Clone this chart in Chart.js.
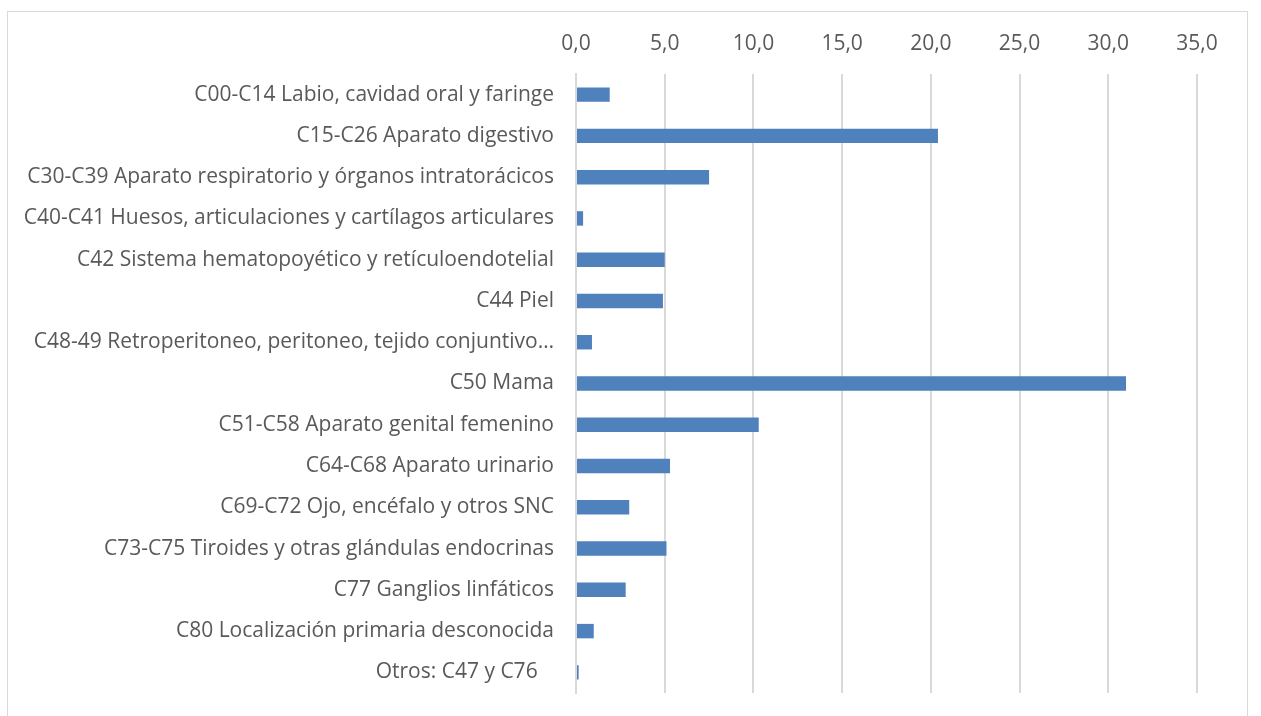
<!DOCTYPE html>
<html>
<head>
<meta charset="utf-8">
<script src="https://cdn.jsdelivr.net/npm/chart.js@4/dist/chart.umd.min.js"></script>
<style>
  html, body { margin: 0; padding: 0; background: #ffffff; }
  #wrap { width: 1261px; height: 716px; position: relative; }
</style>
</head>
<body>
<div id="wrap"><canvas id="bars"></canvas></div>
<script>
// Categories (top to bottom)
const categories = [
    'C00-C14 Labio, cavidad oral y faringe',
    'C15-C26 Aparato digestivo',
    'C30-C39 Aparato respiratorio y órganos intratorácicos',
    'C40-C41 Huesos, articulaciones y cartílagos articulares',
    'C42 Sistema hematopoyético y retículoendotelial',
    'C44 Piel',
    'C48-49 Retroperitoneo, peritoneo, tejido conjuntivo…',
    'C50 Mama',
    'C51-C58 Aparato genital femenino',
    'C64-C68 Aparato urinario',
    'C69-C72 Ojo, encéfalo y otros SNC',
    'C73-C75 Tiroides y otras glándulas endocrinas',
    'C77 Ganglios linfáticos',
    'C80 Localización primaria desconocida',
    'Otros: C47 y C76   '
];

// Percentages
const values = [1.9, 20.4, 7.5, 0.4, 5.0, 4.9, 0.9, 31.0, 10.3, 5.3, 3.0, 5.1, 2.8, 1.0, 0.15];

// Axis range
const axisMin = 0;
const axisMax = 35;
const axisStep = 5;

const textColor = '#595959';
const gridColor = '#d9d9d9';
const barColor = '#4f81bd';
const fontFamily = 'Open Sans';
const fontSize = 21;

// Thin frame around the whole chart
const framePlugin = {
    id: 'frame',
    beforeDraw(chart) {
        const c = chart.ctx;
        c.save();
        c.strokeStyle = '#d9d9d9';
        c.lineWidth = 1;
        c.strokeRect(7.5, 11.5, 1240, 760);
        c.restore();
    }
};

const ctx = document.getElementById('bars').getContext('2d');
const chart = new Chart(ctx, {
    type: 'bar',
    data: {
        labels: categories,
        datasets: [{
            data: values,
            backgroundColor: barColor,
            borderWidth: 0,
            barPercentage: 0.35,
            categoryPercentage: 1.0
        }]
    },
    options: {
        indexAxis: 'y',
        responsive: true,
        maintainAspectRatio: false,
        animation: false,
        layout: {
            padding: { left: 8, right: 64, top: 0, bottom: 23 }
        },
        plugins: {
            legend: { display: false },
            tooltip: { enabled: false }
        },
        scales: {
            x: {
                position: 'top',
                min: axisMin,
                max: axisMax,
                ticks: {
                    stepSize: axisStep,
                    color: textColor,
                    padding: 17,
                    font: { family: fontFamily, size: fontSize },
                    callback: v => v.toFixed(1).replace('.', ',')
                },
                grid: {
                    color: gridColor,
                    lineWidth: 2,
                    drawTicks: false
                },
                border: { display: false },
                afterFit(scale) { scale.height = 74; }
            },
            y: {
                ticks: {
                    color: textColor,
                    padding: 22,
                    autoSkip: false,
                    font: { family: fontFamily, size: fontSize }
                },
                grid: { display: false, drawTicks: false },
                border: { display: true, color: gridColor, width: 2 },
                afterFit(scale) {
                    scale.width = 568;
                    scale.paddingTop = 0;
                    scale.paddingBottom = 0;
                }
            }
        }
    },
    plugins: [framePlugin]
});
</script>
</body>
</html>
